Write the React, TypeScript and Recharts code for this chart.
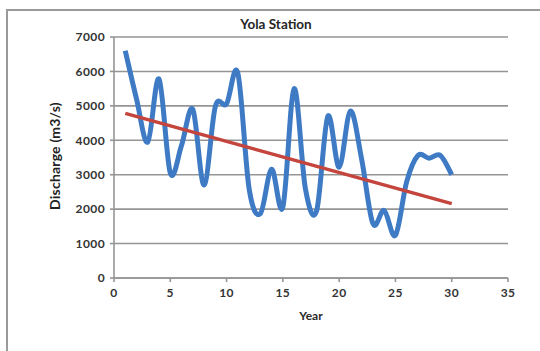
import { LineChart, Line, XAxis, YAxis, CartesianGrid } from 'recharts';

// Annual discharge at Yola, years 1..30
const YEARS = [
  1, 2, 3, 4, 5, 6, 7, 8, 9, 10,
  11, 12, 13, 14, 15, 16, 17, 18, 19, 20,
  21, 22, 23, 24, 25, 26, 27, 28, 29, 30,
];
const DISCHARGE = [
  6600, 5200, 3950, 5780, 3050, 3850, 4900, 2700, 4980, 5060,
  5950, 2600, 1870, 3160, 2060, 5500, 2600, 1950, 4700, 3220,
  4850, 3450, 1580, 1960, 1240, 2800, 3560, 3480, 3560, 3000,
];

// Linear trend end points
const TREND_YEARS = [1, 30];
const TREND_VALUES = [4780, 2160];

const X_TICKS = [0, 5, 10, 15, 20, 25, 30, 35];
const Y_TICKS = [0, 1000, 2000, 3000, 4000, 5000, 6000, 7000];

const series = YEARS.map((year, i) => ({ year, value: DISCHARGE[i] }));
const trend = TREND_YEARS.map((year, i) => ({ year, value: TREND_VALUES[i] }));

const FONT = 'Lato, "Open Sans", sans-serif';
const AXIS_GREY = '#959595';

// Office-style smoothing: cubic bezier with control points at 1/6 of the neighbour span
const smoothCurve = (context: any) => {
  let pts: number[][] = [];
  return {
    areaStart() {},
    areaEnd() {},
    lineStart() {
      pts = [];
    },
    point(x: number, y: number) {
      pts.push([+x, +y]);
    },
    lineEnd() {
      if (!pts.length) return;
      context.moveTo(pts[0][0], pts[0][1]);
      for (let i = 0; i < pts.length - 1; i++) {
        const p0 = pts[i - 1] || pts[i];
        const p1 = pts[i];
        const p2 = pts[i + 1];
        const p3 = pts[i + 2] || p2;
        context.bezierCurveTo(
          p1[0] + (p2[0] - p0[0]) / 6,
          p1[1] + (p2[1] - p0[1]) / 6,
          p2[0] - (p3[0] - p1[0]) / 6,
          p2[1] - (p3[1] - p1[1]) / 6,
          p2[0],
          p2[1],
        );
      }
    },
  };
};

const tickStyle = {
  fill: '#333333',
  fontSize: 12,
  fontWeight: 700,
  fontFamily: FONT,
  letterSpacing: 0.4,
};

export default function App() {
  return (
    <div
      style={{
        position: 'absolute',
        left: 0,
        top: 0,
        width: 540,
        height: 351,
        background: '#ffffff',
        overflow: 'hidden',
      }}
    >
      {/* outer chart frame */}
      <div
        style={{
          position: 'absolute',
          left: 6,
          top: 9,
          width: 560,
          height: 360,
          border: '2px solid #9a9a9a',
          boxSizing: 'border-box',
        }}
      />

      <div
        style={{
          position: 'absolute',
          left: 0,
          top: 16,
          width: 552,
          textAlign: 'center',
          fontFamily: FONT,
          fontWeight: 700,
          fontSize: 13.5,
          color: '#262626',
        }}
      >
        Yola Station
      </div>

      <div style={{ position: 'absolute', left: 0, top: 0 }}>
        <LineChart
          width={540}
          height={351}
          margin={{ top: 37, right: 32, bottom: 43, left: 60 }}
        >
          <CartesianGrid
            vertical={false}
            stroke={AXIS_GREY}
            strokeWidth={1.6}
          />

          <XAxis
            type="number"
            dataKey="year"
            domain={[0, 35]}
            ticks={X_TICKS}
            height={30}
            tick={{ ...tickStyle, dy: 4 }}
            tickSize={4}
            stroke={AXIS_GREY}
            strokeWidth={1.6}
            label={{
              value: 'Year',
              position: 'bottom',
              offset: 3,
              style: { ...tickStyle, fill: '#2a2a2a', letterSpacing: 0 },
            }}
          />

          <YAxis
            type="number"
            domain={[0, 7000]}
            ticks={Y_TICKS}
            width={54}
            tick={{ ...tickStyle, dx: -3 }}
            tickSize={4}
            stroke={AXIS_GREY}
            strokeWidth={1.6}
            label={{
              position: 'left',
              content: ({ viewBox }: any) => {
                const cx = viewBox.x + viewBox.width - 60;
                const cy = viewBox.y + viewBox.height / 2 - 1.5;
                return (
                  <text
                    x={cx}
                    y={cy}
                    transform={`rotate(-90 ${cx} ${cy})`}
                    textAnchor="middle"
                    dominantBaseline="central"
                    style={{
                      fontFamily: FONT,
                      fontWeight: 700,
                      fontSize: 14,
                      letterSpacing: 0.2,
                      fill: '#222222',
                    }}
                  >
                    Discharge (m3/s)
                  </text>
                );
              },
            }}
          />

          <Line
            data={series}
            dataKey="value"
            type={smoothCurve as any}
            stroke="#3e7bc4"
            strokeWidth={5}
            dot={false}
            isAnimationActive={false}
          />

          <Line
            data={trend}
            dataKey="value"
            type="linear"
            stroke="#c4453d"
            strokeWidth={3.5}
            dot={false}
            isAnimationActive={false}
          />
        </LineChart>
      </div>
    </div>
  );
}
